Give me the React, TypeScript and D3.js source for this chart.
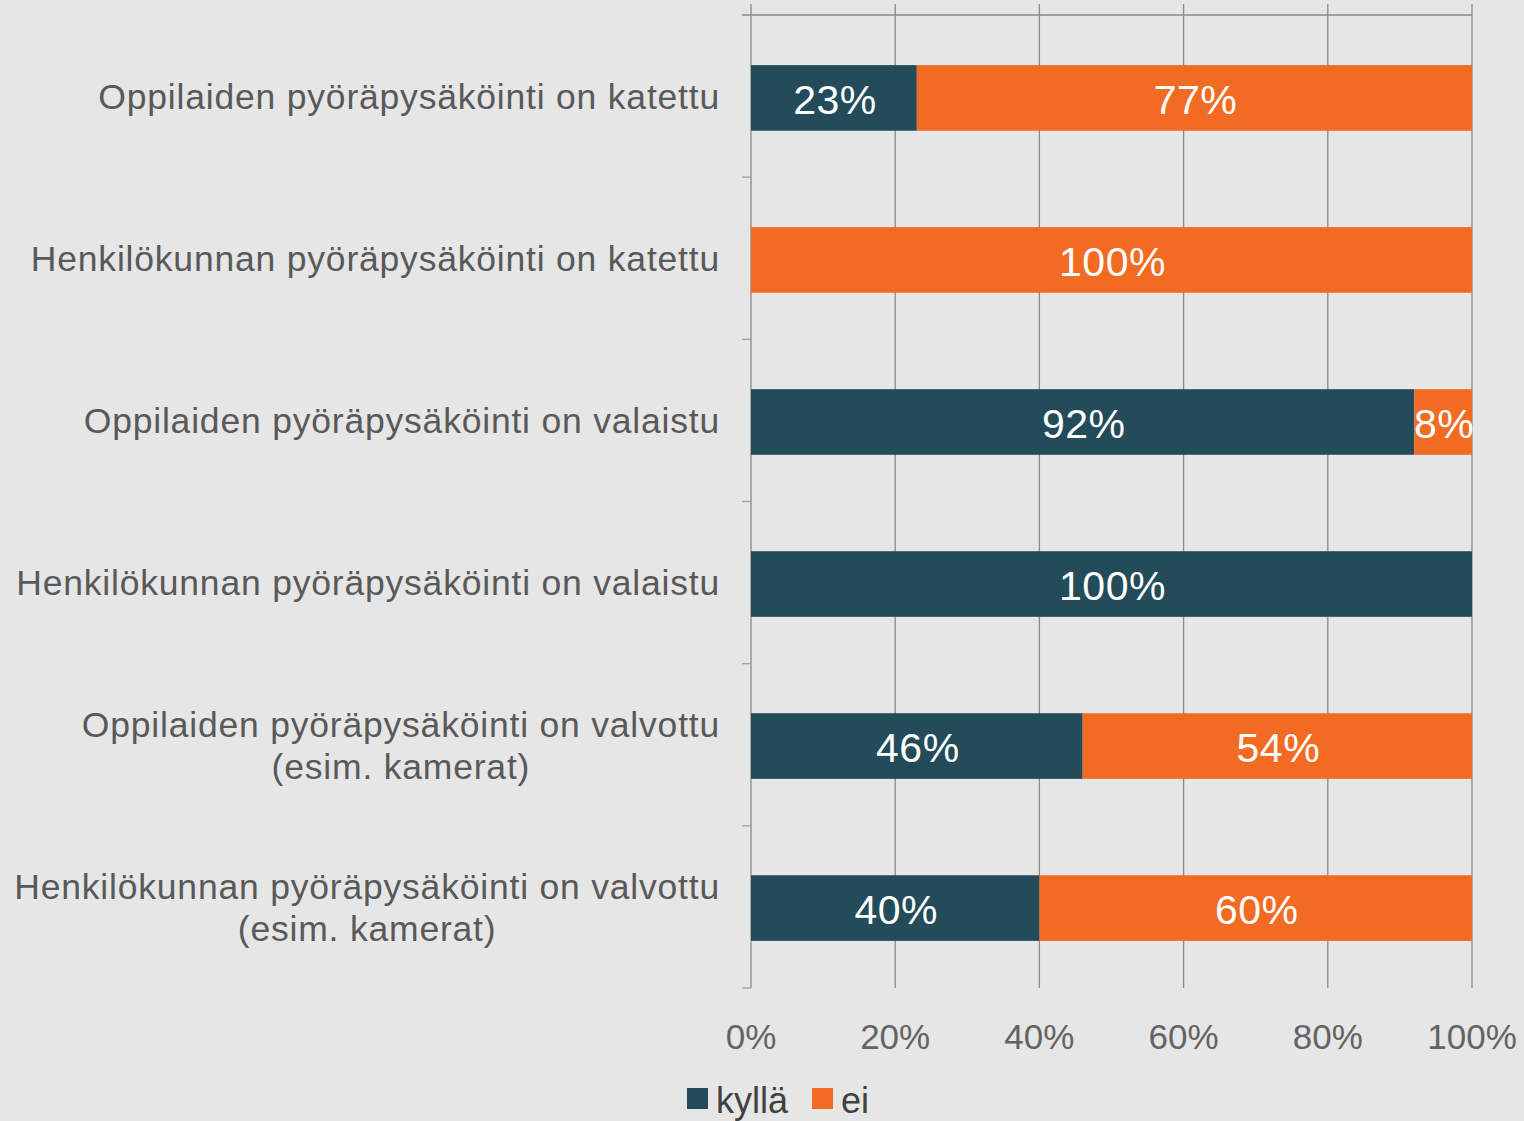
import { useRef, useEffect } from 'react'
import * as d3 from 'd3'

const categories = [
  ['Oppilaiden pyöräpysäköinti on katettu'],
  ['Henkilökunnan pyöräpysäköinti on katettu'],
  ['Oppilaiden pyöräpysäköinti on valaistu'],
  ['Henkilökunnan pyöräpysäköinti on valaistu'],
  ['Oppilaiden pyöräpysäköinti on valvottu', '(esim. kamerat)'],
  ['Henkilökunnan pyöräpysäköinti on valvottu', '(esim. kamerat)'],
]
const kylla = [23, 0, 92, 100, 46, 40]
const ei = [77, 100, 8, 0, 54, 60]
const seriesNames = ['kyllä', 'ei']
const seriesColors = ['#234b5a', '#f26b22']
const xTicks = [0, 20, 40, 60, 80, 100]

const W = 1524
const H = 1121
const FONT = '"Liberation Sans", Arial, sans-serif'

export default function App() {
  const svgRef = useRef<SVGSVGElement>(null)

  useEffect(() => {
    if (!svgRef.current) return
    const svg = d3.select(svgRef.current)
    svg.selectAll('*').remove()

    const left = 751
    const right = 1472
    const top = 15
    const bottom = 988

    svg.append('rect').attr('width', W).attr('height', H).attr('fill', '#e6e6e6')

    const x = d3.scaleLinear().domain([0, 100]).range([left, right])
    const y = d3.scaleBand<number>()
      .domain(d3.range(categories.length))
      .range([top + 1.5, bottom + 1.5])
      .paddingInner(0.595)
      .paddingOuter(0.3)
    const band = (bottom - top) / categories.length

    // vertical gridlines (value axis ticks extend above the top line)
    svg.append('g')
      .selectAll('line')
      .data(xTicks)
      .enter()
      .append('line')
      .attr('x1', d => x(d))
      .attr('x2', d => x(d))
      .attr('y1', 4)
      .attr('y2', bottom)
      .attr('stroke', '#8a8a8a')
      .attr('stroke-width', 1.3)

    // top axis line
    svg.append('line')
      .attr('x1', left - 9).attr('x2', right)
      .attr('y1', top).attr('y2', top)
      .attr('stroke', '#8a8a8a').attr('stroke-width', 1.3)

    // category tick marks
    svg.append('g')
      .selectAll('line')
      .data(d3.range(categories.length + 1))
      .enter()
      .append('line')
      .attr('x1', left - 9)
      .attr('x2', left)
      .attr('y1', d => top + d * band)
      .attr('y2', d => top + d * band)
      .attr('stroke', '#a0a0a0')
      .attr('stroke-width', 1.3)

    // stacked bars
    const rows = categories.map((_, i) => [
      { s: 0, x0: 0, x1: kylla[i], v: kylla[i] },
      { s: 1, x0: kylla[i], x1: kylla[i] + ei[i], v: ei[i] },
    ])

    rows.forEach((segs, i) => {
      const g = svg.append('g')
      segs.filter(d => d.v > 0).forEach(d => {
        g.append('rect')
          .attr('x', x(d.x0))
          .attr('y', y(i)!)
          .attr('width', x(d.x1) - x(d.x0))
          .attr('height', y.bandwidth())
          .attr('fill', seriesColors[d.s])
        g.append('text')
          .attr('x', (x(d.x0) + x(d.x1)) / 2 + 1)
          .attr('y', y(i)! + y.bandwidth() / 2)
          .attr('dy', '0.38em')
          .attr('text-anchor', 'middle')
          .attr('fill', '#ffffff')
          .attr('font-family', FONT)
          .attr('font-size', 41)
          .attr('letter-spacing', 0.5)
          .text(`${d.v}%`)
      })
    })

    // category labels
    categories.forEach((lines, i) => {
      const cy = top + (i + 0.5) * band
      const lh = 42
      const g = svg.append('g')
      const texts = lines.map((ln, j) =>
        g.append('text')
          .attr('y', cy + (j - (lines.length - 1) / 2) * lh)
          .attr('dy', '0.36em')
          .attr('fill', '#595959')
          .attr('font-family', FONT)
          .attr('font-size', 35.5)
          .attr('letter-spacing', 0.8)
          .text(ln)
      )
      const widths = texts.map(t => (t.node() as SVGTextElement).getComputedTextLength())
      const maxW = d3.max(widths) || 0
      const cx = 720 - maxW / 2
      texts.forEach(t => t.attr('x', cx).attr('text-anchor', 'middle'))
    })

    // x tick labels
    svg.append('g')
      .selectAll('text')
      .data(xTicks)
      .enter()
      .append('text')
      .attr('x', d => x(d))
      .attr('y', 1049)
      .attr('text-anchor', 'middle')
      .attr('fill', '#636363')
      .attr('font-family', FONT)
      .attr('font-size', 35)
      .text(d => `${d}%`)

    // legend
    const lg = svg.append('g')
    const legendX = [687, 812]
    seriesNames.forEach((name, i) => {
      lg.append('rect')
        .attr('x', legendX[i])
        .attr('y', 1088)
        .attr('width', 21)
        .attr('height', 21)
        .attr('fill', seriesColors[i])
      lg.append('text')
        .attr('x', legendX[i] + 29)
        .attr('y', 1113)
        .attr('fill', '#404040')
        .attr('font-family', FONT)
        .attr('font-size', 36)
        .text(name)
    })
  }, [])

  return (
    <div style={{ position: 'absolute', left: 0, top: 0, width: W, height: H }}>
      <svg ref={svgRef} width={W} height={H} style={{ display: 'block' }} />
    </div>
  )
}
